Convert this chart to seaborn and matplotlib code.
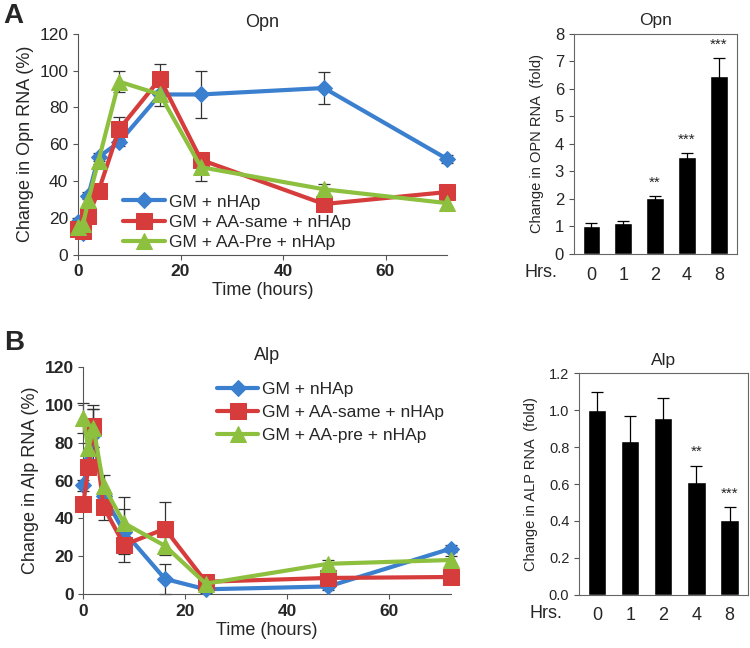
import matplotlib
matplotlib.use("Agg")
import matplotlib.pyplot as plt
import seaborn as sns
import numpy as np

sns.set_style("ticks")
plt.rcParams['font.family'] = ['Liberation Sans', 'DejaVu Sans']

# time course data (hours)
times = [0, 1, 2, 4, 8, 16, 24, 48, 72]

opn_gm = [18, 12, 32, 53, 61, 87, 87, 90.5, 52]
opn_same = [14, 13, 21, 34.5, 68, 95.5, 51.5, 27.5, 34]
opn_pre = [15, 16.5, 29.5, 51, 94, 87, 47.5, 35.5, 28]
opn_gm_err = [2, 2, 2, 2, 2, 6, 13, 8.5, 2]
opn_same_err = [2, 2, 2, 2, 7, 8, 2, 2, 2]
opn_pre_err = [2, 2, 2, 2, 5.5, 2, 7.5, 3, 2]

alp_gm = [57.5, 70, 84, 52, 33, 8, 2.5, 4, 24]
alp_same = [47.5, 67, 89, 46, 26, 34.5, 6.5, 8.5, 9]
alp_pre = [93, 77, 88, 57, 37.5, 25.5, 5.5, 16, 18]
alp_gm_err = [3, 3, 14, 3, 12, 8, 2, 2, 2]
alp_same_err = [3, 3, 11, 7, 9, 14, 2, 2, 2]
alp_pre_err = [8, 3, 10, 6, 14, 4.5, 2, 2, 2]

# fold change bars
hrs = ["0", "1", "2", "4", "8"]
opn_fold = [1.0, 1.12, 2.03, 3.53, 6.48]
opn_fold_err = [0.12, 0.07, 0.07, 0.12, 0.62]
opn_stars = ["", "", "**", "***", "***"]
alp_fold = [1.0, 0.835, 0.96, 0.61, 0.405]
alp_fold_err = [0.1, 0.135, 0.105, 0.09, 0.07]
alp_stars = ["", "", "", "**", "***"]

blue = "#3b7fcf"
red = "#d63c3c"
green = "#8dc03f"


def line_panel(ax, series, title, ylabel, legend_labels, bold_y, legend_kw):
    styles = [(blue, "D", 8), (red, "s", 11), (green, "^", 11)]
    for (vals, err), lab, (col, mk, ms) in zip(series, legend_labels, styles):
        ax.errorbar(times, vals, yerr=err, fmt="none", ecolor="#333333",
                    elinewidth=0.9, capsize=4, capthick=0.9, clip_on=False, zorder=2)
        sns.lineplot(x=times, y=vals, ax=ax, color=col, marker=mk, markersize=ms,
                     markeredgecolor=col, linewidth=3, label=lab, clip_on=False,
                     zorder=3)
    ax.set_xlim(0, 72)
    ax.set_ylim(0, 120)
    ax.set_xticks([0, 20, 40, 60])
    ax.set_yticks(range(0, 121, 20))
    ax.set_title(title, fontsize=13, pad=5)
    ax.set_ylabel(ylabel, fontsize=13)
    ax.set_xlabel("Time (hours)", fontsize=13, labelpad=2)
    for lbl in ax.get_xticklabels():
        lbl.set_fontweight("bold")
    for lbl in ax.get_yticklabels():
        lbl.set_fontweight("bold" if bold_y else "normal")
    ax.tick_params(labelsize=12.5, color="#555555")
    sns.despine(ax=ax)
    for s in ["left", "bottom"]:
        ax.spines[s].set_color("#555555")
    ax.legend(frameon=False, fontsize=12.5, handlelength=2.4, handletextpad=0.2,
              borderpad=0.2, **legend_kw)


def bar_panel(ax, vals, err, stars, title, ylabel, ymax, ystep, fmt, ytick_size):
    sns.barplot(x=hrs, y=vals, ax=ax, color="black", width=0.55, saturation=1)
    ax.errorbar(range(len(hrs)), vals, yerr=err, fmt="none", ecolor="black",
                elinewidth=0.9, capsize=4, capthick=0.9)
    for i, s in enumerate(stars):
        if s:
            ax.text(i, vals[i] + err[i] + ymax * 0.03, s, ha="center", va="bottom",
                    fontsize=11)
    ax.set_xlim(-0.55, 4.55)
    ax.set_ylim(0, ymax)
    ticks = np.arange(0, ymax + ystep / 2, ystep)
    ax.set_yticks(ticks)
    ax.set_yticklabels([fmt.format(t) for t in ticks], fontsize=ytick_size)
    ax.tick_params(axis="x", labelsize=13, length=0, pad=9)
    ax.tick_params(axis="y", color="#555555")
    ax.set_title(title, fontsize=12.5, pad=6)
    ax.set_ylabel(ylabel, fontsize=10.5, labelpad=8)
    ax.text(-0.1, -0.045, "Hrs.", transform=ax.transAxes, ha="right", va="top",
            fontsize=13)
    for s in ax.spines.values():
        s.set_color("#666666")


fig = plt.figure(figsize=(7.5, 6.48), dpi=100)

ax1 = fig.add_axes([0.104, 0.607, 0.492, 0.341])
line_panel(ax1, [(opn_gm, opn_gm_err), (opn_same, opn_same_err), (opn_pre, opn_pre_err)],
           "Opn", "Change in Opn RNA (%)",
           ["GM + nHAp", "GM + AA-same + nHAp", "GM + AA-Pre + nHAp"], False,
           dict(loc="lower left", bbox_to_anchor=(0.09, -0.035), labelspacing=0.3))

ax2 = fig.add_axes([0.765, 0.608, 0.217, 0.340])
bar_panel(ax2, opn_fold, opn_fold_err, opn_stars, "Opn", "Change in OPN RNA  (fold)",
          8, 1, "{:.0f}", 12)

ax3 = fig.add_axes([0.111, 0.0833, 0.49, 0.350])
line_panel(ax3, [(alp_gm, alp_gm_err), (alp_same, alp_same_err), (alp_pre, alp_pre_err)],
           "Alp", "Change in Alp RNA (%)",
           ["GM + nHAp", "GM + AA-same + nHAp", "GM + AA-pre + nHAp"], True,
           dict(loc="upper left", bbox_to_anchor=(0.33, 0.99), labelspacing=0.45))

ax4 = fig.add_axes([0.772, 0.082, 0.225, 0.342])
bar_panel(ax4, alp_fold, alp_fold_err, alp_stars, "Alp", "Change in ALP RNA  (fold)",
          1.2, 0.2, "{:.1f}", 10.5)

fig.text(0.005, 0.995, "A", fontsize=20, fontweight="bold", va="top")
fig.text(0.005, 0.49, "B", fontsize=20, fontweight="bold", va="top")

fig.savefig("out.png", dpi=100)
